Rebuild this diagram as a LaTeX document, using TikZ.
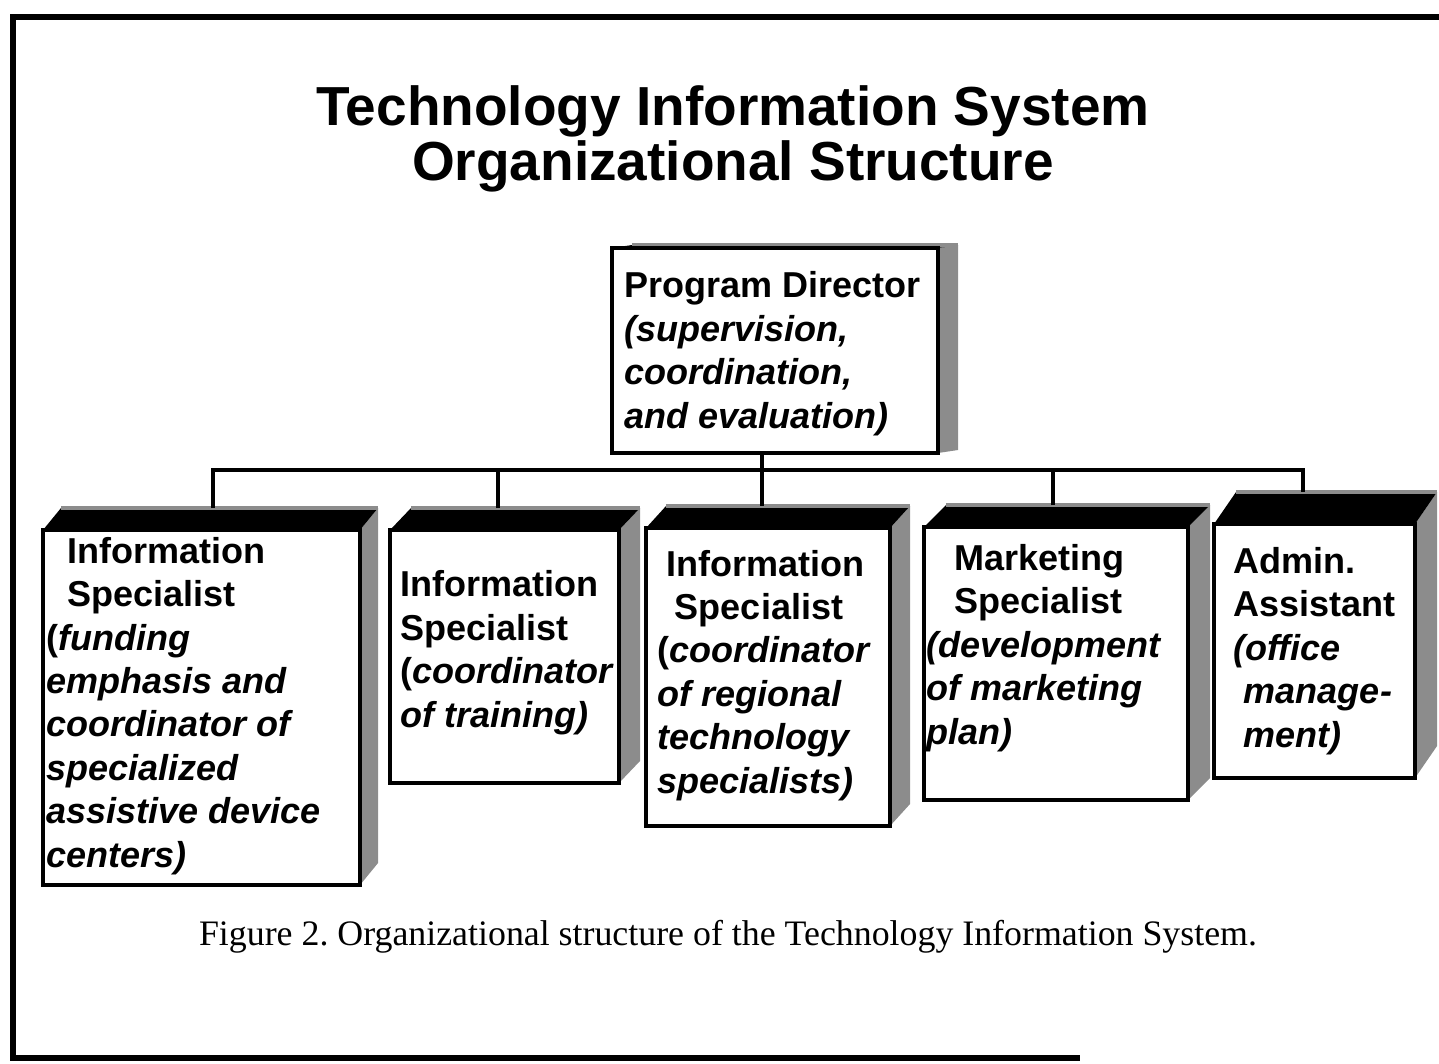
\documentclass[tikz,border=0pt]{standalone}
\usepackage{fontspec}
\setmainfont{Liberation Serif}
\setsansfont{Liberation Sans}
\usetikzlibrary{calc, fit, positioning, backgrounds}

% depth faces of a box: right side and top
\newcommand{\boxdepth}[3]{%
  \begin{scope}[on background layer]
    \fill[sideface] (#1.north east) -- ++(#2,#3) -- ($(#1.south east)+(#2,#3)$) -- (#1.south east) -- cycle;
    \fill[topface] (#1.north west) -- ++(#2,#3) -- ($(#1.north east)+(#2,#3)$) -- (#1.north east) -- cycle;
    \draw[topedge] ($(#1.north west)+(#2,#3)$) -- ($(#1.north east)+(#2,#3)$);
  \end{scope}
}

\begin{document}
\begin{tikzpicture}[
        x=0.02cm, y=-0.02cm,
        front/.style={draw, rectangle, line width=2.6pt, fill=white, inner sep=0pt, outer sep=0pt},
        sideface/.style={fill=black!45},
        topface/.style={fill=black},
        topedge/.style={draw=black!45, line width=2.5pt},
        boxtext/.style={font=\sffamily\bfseries\fontsize{20.5}{24.7}\selectfont, align=left, inner sep=0pt},
        wire/.style={line width=2.2pt},
        frame/.style={line width=3.4pt},
        title/.style={font=\sffamily\bfseries\fontsize{31.3}{31.3}\selectfont, align=center, inner sep=0pt},
        caption/.style={font=\rmfamily\frenchspacing\fontsize{20.4}{24}\selectfont, inner sep=0pt}
    ]
        \useasboundingbox (0,0) rectangle (1439,1063);

        % Frame
        \draw[frame] (1439,17) -- (13,17) -- (13,1058) -- (1080,1058);

        % Title
        \node[title, anchor=base] (title) at (733,180) {Technology Information System\\Organizational Structure};

        % Boxes
        \node[front, line width=2.2pt, fit={(612,248) (938,453)}] (pd) {};
        \node[front, fit={(43,530) (360,885)}] (b1) {};
        \node[front, fit={(390,530) (619,783)}] (b2) {};
        \node[front, fit={(646,528) (890,826)}] (b3) {};
        \node[front, fit={(924,527) (1188,800)}] (b4) {};
        \node[front, fit={(1214,524) (1415,778)}] (b5) {};

        \boxdepth{pd}{20}{-3}
        \boxdepth{b1}{18}{-22}
        \boxdepth{b2}{21}{-22}
        \boxdepth{b3}{20}{-22}
        \boxdepth{b4}{22}{-22}
        \boxdepth{b5}{22}{-32}

        % Texts (anchored at the baseline of the last line)
        \node[boxtext, anchor=base west] (pdtxt) at (624,428) {Program Director\\\textit{(supervision,}\\\textit{coordination,}\\\textit{and evaluation)}};
        \node[boxtext, anchor=base west] (b1txt) at (46,867) {\hspace*{12pt}Information\\\hspace*{12pt}Specialist\\(\textit{funding}\\\textit{emphasis and}\\\textit{coordinator of}\\\textit{specialized}\\\textit{assistive device}\\\textit{centers)}};
        \node[boxtext, anchor=base west] (b2txt) at (400,727) {Information\\Specialist\\(\textit{coordinator}\\\textit{of training)}};
        \node[boxtext, anchor=base west] (b3txt) at (657,793) {\hspace*{5pt}Information\\\hspace*{10pt}Specialist\\(\textit{coordinator}\\\textit{of regional}\\\textit{technology}\\\textit{specialists)}};
        \node[boxtext, anchor=base west] (b4txt) at (926,744) {\hspace*{16pt}Marketing\\\hspace*{16pt}Specialist\\\textit{(development}\\\textit{of marketing}\\\textit{plan)}};
        \node[boxtext, anchor=base west] (b5txt) at (1233,747) {Admin.\\Assistant\\\textit{(office}\\\hspace*{6pt}\textit{manage-}\\\hspace*{6pt}\textit{ment)}};

        % Wires
        \coordinate (bus) at (762,470);
        \coordinate (t1) at (213,508);
        \coordinate (t2) at (498,508);
        \coordinate (t3) at (762,506);
        \coordinate (t4) at (1053,505);
        \coordinate (t5) at (1303,492);
        \draw[wire] (t3 |- pd.south) -- (t3);
        \draw[wire] (t1) -- (t1 |- bus) -- (t5 |- bus) -- (t5);
        \draw[wire] (t2) -- (t2 |- bus);
        \draw[wire] (t4) -- (t4 |- bus);

        % Caption
        \node[caption, anchor=base] (cap) at (728,945) {Figure 2. Organizational structure of the Technology Information System.};
    \end{tikzpicture}
\end{document}
